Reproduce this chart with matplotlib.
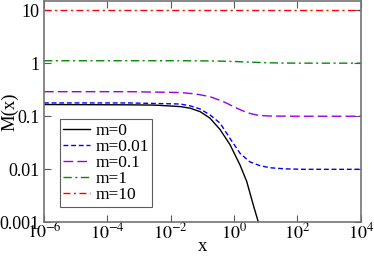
import matplotlib
matplotlib.use('Agg')
from matplotlib import pyplot as plt

plt.rcParams['font.family'] = 'Liberation Serif'
plt.rcParams['mathtext.fontset'] = 'stix'

# log10(x) where values were read, and M(x) for each m
lx0 = [-6, -3.3, -2.5, -1.7, -1.39, -1.07, -0.76, -0.44, -0.126, 0.19, 0.40, 0.61, 0.77, 0.85]
m0 = [0.166, 0.164, 0.162, 0.152, 0.142, 0.122, 0.092, 0.056, 0.029, 0.012, 0.0059, 0.0021, 0.001, 0.0007]

lx1 = [-6, -3.3, -1.7, -1.39, -1.07, -0.76, -0.44, -0.126, 0.19, 0.5, 0.82, 1.14, 1.6, 2.2, 4]
m001 = [0.178, 0.178, 0.17, 0.157, 0.137, 0.106, 0.074, 0.038, 0.020, 0.0138, 0.0117, 0.0107, 0.0102, 0.01, 0.01]

lx2 = [-6, -3.3, -1.7, -1.2, -0.76, -0.4, -0.23, 0, 0.25, 0.5, 0.76, 1.1, 2, 4]
m01 = [0.29, 0.29, 0.28, 0.262, 0.234, 0.195, 0.176, 0.15, 0.128, 0.113, 0.104, 0.101, 0.1, 0.1]

lx3 = [-6, -4, -2, -1, -0.5, 0, 0.5, 1, 1.5, 2, 4]
m1 = [1.11, 1.11, 1.11, 1.105, 1.095, 1.075, 1.045, 1.02, 1.005, 1.0, 1.0]

lx4 = [-6, -2, 0, 1, 2, 4]
m10 = [10.0, 10.0, 10.0, 10.0, 10.0, 10.0]

labels = ['m=0', 'm=0.01', 'm=0.1', 'm=1', 'm=10']

fig = plt.figure(figsize=(3.74, 2.58), dpi=100)
ax = fig.add_axes([0.1176, 0.138, 0.847, 0.858])

ax.plot([10**v for v in lx0], m0, color='black', lw=1.0, label=labels[0])
ax.plot([10**v for v in lx1], m001, color='#0000ff', lw=1.0, ls=(0, (3.5, 2)), label=labels[1])
ax.plot([10**v for v in lx2], m01, color='#9a00e0', lw=1.0, ls=(0, (7, 3)), label=labels[2])
ax.plot([10**v for v in lx3], m1, color='#008c00', lw=1.0, ls=(0, (6, 2.5, 1.5, 2.5)), label=labels[3])
ax.plot([10**v for v in lx4], m10, color='#ff0000', lw=1.0, ls=(0, (5, 2.5, 1.5, 2.5)), label=labels[4])

ax.set_xscale('log')
ax.set_yscale('log')
ax.set_xlim(1e-6, 1e4)
ax.set_ylim(1e-3, 14.8)

ax.set_xticks([1e-6, 1e-4, 1e-2, 1e0, 1e2, 1e4])
ax.set_xticklabels(['$10^{-6}$', '$10^{-4}$', '$10^{-2}$', '$10^{0}$', '$10^{2}$', '$10^{4}$'])
ax.set_yticks([1e-3, 1e-2, 1e-1, 1, 10])
ax.set_yticklabels(['0.001', '0.01', '0.1', '1', '10'])
ax.minorticks_off()
ax.tick_params(direction='in', length=5, width=0.8, top=True, right=True, labelsize=13, color='0.35')
ax.tick_params(axis='x', pad=0)
ax.tick_params(axis='y', pad=3)
for s in ax.spines.values():
    s.set_color('0.45')
    s.set_linewidth(1.2)

ax.set_xlabel('x', fontsize=13.5, labelpad=-3)
ax.set_ylabel('M(x)', fontsize=13.5)
ax.yaxis.set_label_coords(-0.08, 0.5)

leg = ax.legend(loc='lower left', fontsize=12.5, frameon=True, fancybox=False,
                edgecolor='0.2', handlelength=1.55, handletextpad=0.3,
                borderpad=0.2, labelspacing=0.0, borderaxespad=0.9)
leg.get_frame().set_linewidth(0.8)

plt.savefig('out.png', dpi=100)
